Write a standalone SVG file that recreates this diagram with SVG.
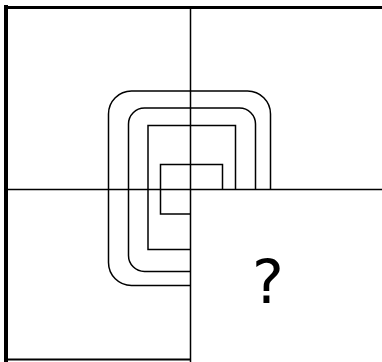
<svg xmlns="http://www.w3.org/2000/svg" width="382" height="362" viewBox="0 0 382 362">
<style>
.thin{fill:none;stroke:#000;stroke-width:1.5}
.frame{fill:none;stroke:#000}
.q{font-family:"DejaVu Sans",Verdana,sans-serif;font-size:60px;fill:#000;text-anchor:middle}
</style>
<rect width="382" height="362" fill="#fff"/>
<g id="frame">
<line class="frame" x1="6" y1="5" x2="6" y2="362" stroke-width="4"/>
<line class="frame" x1="4" y1="7.5" x2="382" y2="7.5" stroke-width="3"/>
<line class="frame" x1="4" y1="359.5" x2="191" y2="359.5" stroke-width="2"/>
<line class="thin" x1="190.5" y1="8" x2="190.5" y2="362"/>
<line class="thin" x1="8" y1="189.5" x2="382" y2="189.5"/>
</g>
<g id="shapes">
<path id="s1" class="thin" d="M270.5 189.5 V114 A23 23 0 0 0 247.5 91 H131.5 A23 23 0 0 0 108.5 114 V262.5 A23 23 0 0 0 131.5 285.5 H190.5"/>
<path id="s2" class="thin" d="M255.5 189.5 V124 A16 16 0 0 0 239.5 108 H144.5 A16 16 0 0 0 128.5 124 V255.5 A16 16 0 0 0 144.5 271.5 H190.5"/>
<path id="s3" class="thin" d="M235.5 189.5 V125.5 H148 V249.5 H190.5"/>
<path id="s4" class="thin" d="M222.5 189.5 V164.5 H160.5 V214 H190.5"/>
</g>
<g id="question">
<text class="q" x="268" y="303">?</text>
</g>
</svg>
